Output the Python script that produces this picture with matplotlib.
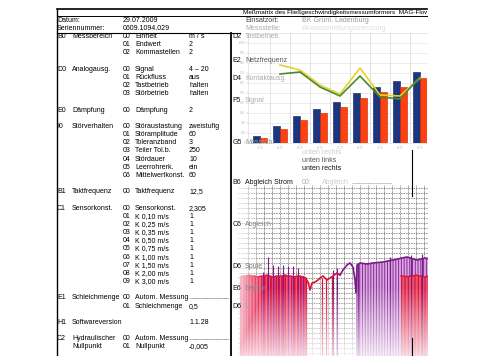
import numpy as np
import matplotlib.pyplot as plt
from matplotlib.transforms import Bbox

plt.rcParams['font.family'] = ['Liberation Sans', 'DejaVu Sans']
plt.rcParams['hatch.linewidth'] = 0.7

# --- document text ---
datum = '29.07.2009'
seriennummer = '0609.1094.029'
titel = 'Meßmatrix des Fließgeschwindigkeitsmessumformers  MAG-Flow'
einsatzort = 'BK Grünl. Ladenburg'
messstelle = 'Abwasserleitungsmessung'

group_codes = ['B0', 'D0', 'E0', 'I0', 'B1', 'C1', 'E1', 'H1', 'C2']
group_names = ['Messbereich', 'Analogausg.', 'Dämpfung', 'Störverhalten', 'Taktfrequenz',
               'Sensorkonst.', 'Schleichmenge', 'Softwareversion', 'Hydraulischer\nNullpunkt']
param_codes = [['00', '01', '02'],
               ['00', '01', '02', '03'],
               ['00'],
               ['00', '01', '02', '03', '04', '05', '06'],
               ['00'],
               ['00', '01', '02', '03', '04', '05', '06', '07', '08', '09'],
               ['00', '01'],
               [''],
               ['00', '01']]
param_names = [['Einheit', 'Endwert', 'Kommastellen'],
               ['Signal', 'Rückfluss', 'Tastbetrieb', 'Störbetrieb'],
               ['Dämpfung'],
               ['Störaustastung', 'Störamplitude', 'Toleranzband', 'Teiler Tol.b.',
                'Stördauer', 'Leerrohrerk.', 'Mittelwertkonst.'],
               ['Taktfrequenz'],
               ['Sensorkonst.', 'K 0,10 m/s', 'K 0,25 m/s', 'K 0,35 m/s', 'K 0,50 m/s',
                'K 0,75 m/s', 'K 1,00 m/s', 'K 1,50 m/s', 'K 2,00 m/s', 'K 3,00 m/s'],
               ['Autom. Messung', 'Schleichmenge'],
               [''],
               ['Autom. Messung', 'Nullpunkt']]
param_values = [['m / s', '2', '2'],
                ['4 – 20', 'aus', 'halten', 'halten'],
                ['2'],
                ['zweistufig', '60', '3', '250', '10', 'ein', '60'],
                ['12,5'],
                ['2,305', '1', '1', '1', '1', '1', '1', '1', '1', '1'],
                ['---', '0,5'],
                ['1.1.28'],
                ['---', '-0,005']]

side_codes = ['D2', 'E2', 'D4', 'F5', 'G5', 'B6', 'C6', 'D6', 'E6', 'D6']
side_names = ['Tastbetrieb', 'Netzfrequenz', 'Kontaktausg.', 'Signal', 'Messrohr',
              'Abgleich Strom', 'Abgleich', 'Spule', 'Sensor', 'V']
position_texts = ['unten rechts', 'unten links', 'unten rechts']

# --- bar chart ---
days = ['21.07', '22.07', '23.07', '24.07', '25.07', '26.07', '27.07', '28.07', '29.07']
blue = [70, 170, 270, 340, 410, 500, 560, 620, 710]
red = [50, 140, 230, 300, 360, 450, 510, 560, 650]
yellow = [780, 730, 580, 490, 750, 480, 470, 650]
green = [690, 710, 560, 470, 670, 460, 440, 660]
ytick_labels = ['0', '100', '200', '300', '400', '500', '600', '700', '800', '900', '1000']

# --- signal trace ---
red_t = [0, 3, 6, 9, 12, 15, 18, 21, 24, 27, 30, 33, 36, 39, 42, 45, 48, 51, 54, 57, 60, 63, 66]
red_top = [79, 80, 80, 81, 80, 80, 79, 80, 80, 81, 80, 79, 80, 80, 80, 81, 80, 80, 79, 80, 80, 79, 78]
pur_t = [23, 28, 33, 38, 43, 48, 53, 58, 63]
pur_top = [84, 99, 91, 90, 91, 90, 90, 88, 80]
wave_t = [66, 68, 70, 72, 75, 78, 80, 83, 87, 90, 93, 97, 100]
wave_v = [77, 74, 66, 73, 74, 76, 78, 80, 76, 78, 80, 83, 81]
wig_t = [100, 103, 107, 110, 113, 115, 116, 117, 120, 127, 133, 143, 153, 162, 167, 177, 185, 190]
wig_v = [81, 86, 91, 93, 89, 76, 63, 91, 93, 92, 93, 94, 96, 98, 99, 96, 98, 97]
mid_red_t = [82, 86, 92]
mid_red_top = [78, 77, 80]
mid_pur_t = [93, 97, 118, 150, 171, 182]
mid_pur_top = [86, 88, 92, 99, 101, 102]
rred_t = [161, 164, 167, 170, 173, 176, 179, 182, 185, 188]
rred_top = [80, 80, 79, 80, 80, 81, 80, 80, 79, 80]

W, H = 480, 356
fig = plt.figure(figsize=(4.8, 3.56), dpi=100)


def box(x0, y0, x1, y1):
    return [x0 / W, 1 - y1 / H, (x1 - x0) / W, (y1 - y0) / H]


# signal plot
sig = fig.add_axes(box(237, 185, 428, 356))
sig.set_xlim(-3, 188)
sig.set_ylim(0, 171)
sig.set_xticks(np.arange(8, 188, 8))
sig.set_yticks(np.arange(3, 171, 5))
sig.grid(True, color='#444444', linestyle=(0, (1.2, 1.2)), linewidth=0.5)
sig.set_axisbelow(True)
sig.tick_params(length=0, labelbottom=False, labelleft=False)
for s in sig.spines.values():
    s.set_visible(False)
sig.fill_between(red_t, 0, red_top, facecolor='#f05a80', edgecolor='#d8103a',
                 hatch='|||||', lw=0)
sig.vlines(red_t, 0, red_top, color='#d8103a', lw=0.9)
sig.plot(red_t, red_top, color='#e01030', lw=1.0)
sig.vlines(pur_t, 0, pur_top, color='#8a1a8c', lw=0.8)
wt = np.array(wig_t)
wv = np.array(wig_v)
m = wt >= 116
sig.fill_between(wt[m], 0, wv[m], facecolor='#d8a8e0', edgecolor='#8a2a96',
                 hatch='||||||', lw=0)
sig.fill_between(rred_t, 0, rred_top, facecolor='#f05070', edgecolor='#c0102a',
                 hatch='|||||', lw=0)
sig.plot(rred_t, rred_top, color='#e01030', lw=1.0)
sig.vlines(mid_red_t, 0, mid_red_top, color='#d8103a', lw=0.9)
sig.vlines(mid_pur_t, 0, mid_pur_top, color='#7a1a88', lw=0.8)
sig.plot(wave_t, wave_v, color='#e01030', lw=1.2)
sig.plot(wig_t, wig_v, color='#7a1a88', lw=1.2)

# white fade over the bottom and left of the signal plot
fade = fig.add_axes(box(232, 185, 430, 356), zorder=2)
rows = np.linspace(0, 1, 171)[:, None]
cols = np.linspace(0, 1, 198)[None, :]
a_bot = np.clip((rows - 0.6) / 0.4, 0, 1) * 0.8
a_left = np.clip(1 - cols / 0.16, 0, 1) * 0.95
alpha = np.maximum(a_bot, a_left)
img = np.ones((171, 198, 4))
img[..., 3] = alpha
fade.imshow(img, aspect='auto', extent=(0, 1, 0, 1))
fade.axis('off')

# bar chart
ax = fig.add_axes(box(248, 33, 427, 143), zorder=3)
x = np.arange(len(days))
ax.bar(x - 0.18, blue, width=0.36, color='#1c3580', edgecolor='#0c1a50', lw=0.4)
ax.bar(x + 0.18, red, width=0.36, color='#ff4010', edgecolor='#c02800', lw=0.4)
ax.plot(x[1:], yellow, color='#e8d030', lw=1.2)
ax.plot(x[1:], green, color='#4a8a28', lw=1.2)
ax.set_xlim(-0.6, 8.35)
ax.set_ylim(0, 1100)
ax.set_yticks(np.arange(0, 1100, 100))
ax.set_yticklabels(ytick_labels, fontsize=2.2, color='#aaaaaa')
ax.set_xticks(x)
ax.set_xticklabels(days, fontsize=2, color='#888888')
ax.tick_params(length=1.2, width=0.3, colors='#bbbbbb', pad=0.8)
ax.set_xticks(x[:-1] + 0.5, minor=True)
ax.tick_params(which='minor', length=0)
ax.grid(True, which='minor', axis='x', color='#dddddd', lw=0.6)
ax.grid(True, which='major', axis='y', color='#e4e4e4', lw=0.5)
ax.set_axisbelow(True)
for s in ax.spines.values():
    s.set_color('#dddddd')
    s.set_linewidth(0.5)
ax.spines['right'].set_visible(False)

# document overlay
ov = fig.add_axes([0, 0, 1, 1], zorder=5)
ov.patch.set_alpha(0)
ov.set_xlim(0, W)
ov.set_ylim(H, 0)
ov.axis('off')

fs = 5
ov.plot([57, 427], [9, 9], color='black', lw=1.2)
ov.plot([57, 427], [16, 16], color='black', lw=0.7)
ov.plot([57, 240], [32.5, 32.5], color='black', lw=0.8)
ov.plot([57, 57], [9, H], color='black', lw=1.0)
ov.plot([231, 231], [32.5, H], color='black', lw=1.3)
ov.plot([412, 412], [150, 196], color='black', lw=0.8)
ov.plot([412, 412], [338, H], color='black', lw=0.8)

t = ov.text(243, 12.5, titel, fontsize=4.6, va='center')
t.set_clip_box(Bbox.from_extents(0, 0, 427, H))
t.set_clip_on(True)
ov.text(57, 20.5, 'Datum:', fontsize=fs, va='center')
ov.text(123, 20.5, datum, fontsize=fs, va='center')
ov.text(57, 28, 'Seriennummer:', fontsize=fs, va='center')
ov.text(123, 28, seriennummer, fontsize=fs, va='center')
ov.text(245, 20.5, 'Einsatzort:', fontsize=fs, va='center', color='#444444')
ov.text(302, 20.5, einsatzort, fontsize=fs, va='center', color='#999999')
ov.text(245, 28, 'Messstelle:', fontsize=fs, va='center', color='#aaaaaa')
ov.text(302, 28, messstelle, fontsize=fs, va='center', color='#e0e0e0')

pitch = 8.17
row = 0
for code, name, pcs, pns, pvs in zip(group_codes, group_names, param_codes,
                                     param_names, param_values):
    y0 = 36.5 + row * pitch
    ov.text(57, y0, code, fontsize=fs, va='center')
    for k, part in enumerate(name.split('\n')):
        ov.text(72, y0 + k * pitch, part, fontsize=fs, va='center')
    for j, (pc, pn, pv) in enumerate(zip(pcs, pns, pvs)):
        y = y0 + j * pitch
        ov.text(123, y, pc, fontsize=fs, va='center')
        ov.text(135, y, pn, fontsize=fs, va='center')
        if pv == '---':
            ov.plot([189, 229], [y, y], color='#555555', lw=0.5, ls=(0, (1, 0.6)))
        else:
            ov.text(189, y, pv, fontsize=fs, va='center')
    row += len(pcs) + 1

side_y = [36, 61, 79, 101, 143, 183, 224, 266, 289, 307]
side_col = ['#aaaaaa', '#555555', '#aaaaaa', '#aaaaaa', '#999999',
            '#111111', '#888888', '#777777', '#888888', '#aaaaaa']
for code, name, y, c in zip(side_codes, side_names, side_y, side_col):
    ov.text(232.5, y, code, fontsize=fs, va='center', color='#111111')
    ov.text(245, y, name, fontsize=fs, va='center', color=c)

for txt, y, c in zip(position_texts, [153, 160, 168], ['#cccccc', '#555555', '#111111']):
    ov.text(302, y, txt, fontsize=fs, va='center', color=c)
ov.text(302, 183, '00:', fontsize=fs, va='center', color='#aaaaaa')
ov.text(322, 183, 'Abgleich', fontsize=fs, va='center', color='#cccccc')
ov.plot([352, 392], [183, 183], color='#888888', lw=0.5, ls=(0, (1, 0.6)))

fig.savefig('out.png', dpi=100)
